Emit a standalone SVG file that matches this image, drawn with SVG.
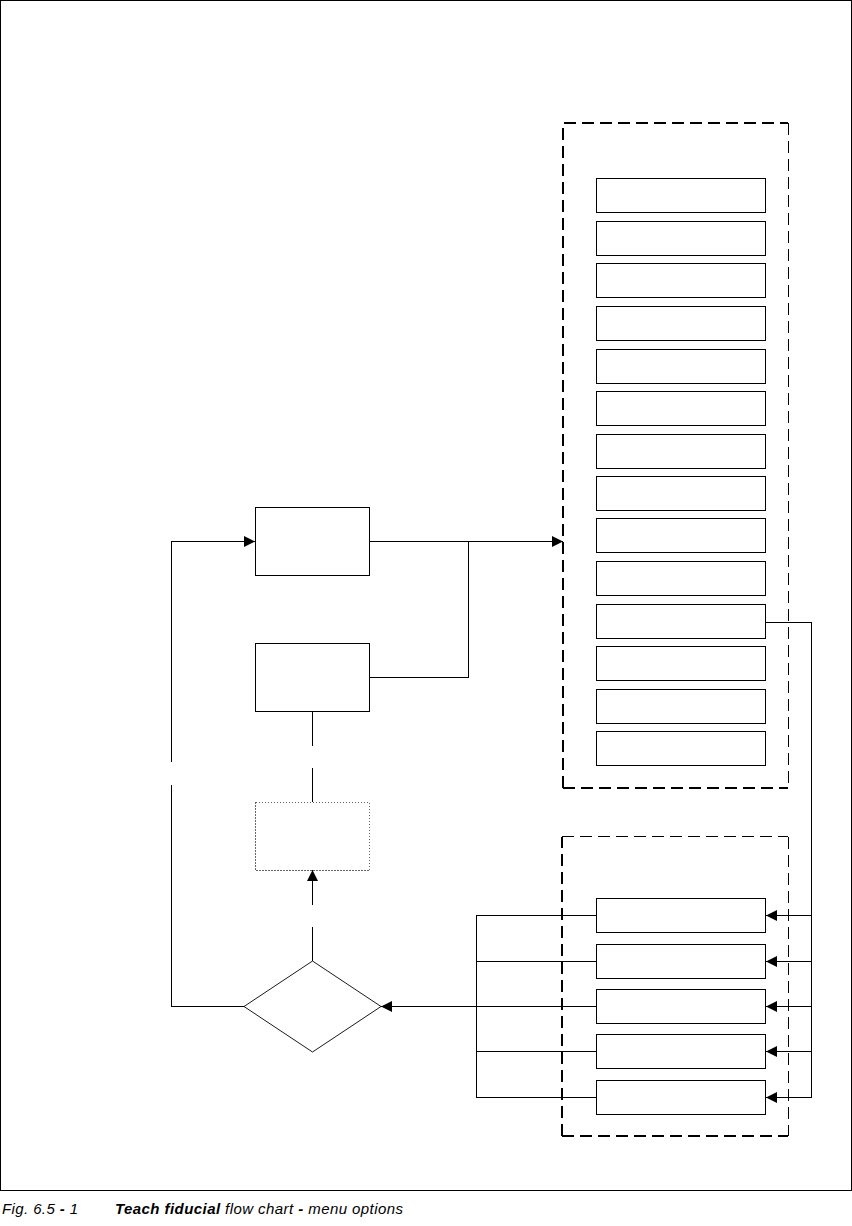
<svg xmlns="http://www.w3.org/2000/svg" width="852" height="1226" viewBox="0 0 852 1226">
<style>
.box{fill:#fff;stroke:#000;stroke-width:1;shape-rendering:crispEdges}
.ln{fill:none;stroke:#000;stroke-width:1;shape-rendering:crispEdges}
.grp{fill:none;stroke:#000;stroke-dasharray:12 6;shape-rendering:crispEdges}
.cap{font-family:"Liberation Sans",Arial,sans-serif;font-size:15px;font-style:italic;fill:#000}
</style>
<defs>
<marker id="ah" markerUnits="userSpaceOnUse" markerWidth="11" markerHeight="11" refX="11" refY="5.5" orient="auto" viewBox="0 0 11 11">
<path d="M0,0 L11,5.5 L0,11 z" fill="#000"/>
</marker>
</defs>
<rect x="0.5" y="0.5" width="851" height="1190" fill="#fff" stroke="#000" stroke-width="1" shape-rendering="crispEdges"/>

<g id="group-menu">
<path class="grp" stroke-width="2" d="M563,788 V123 H788"/>
<path class="grp" stroke-width="1" d="M788.5,123 V788"/>
<path class="grp" stroke-width="2" d="M563,788 H788"/>
</g>
<g id="group-options">
<path class="grp" stroke-width="2" d="M562,1136 V836.5"/>
<path class="grp" stroke-width="1.5" d="M562,836.5 H788"/>
<path class="grp" stroke-width="1" d="M788.5,836.5 V1136"/>
<path class="grp" stroke-width="2" d="M562,1136 H788"/>
</g>

<g id="menu-items">
<rect id="m1" class="box" x="596.5" y="178.5" width="169" height="34"/>
<rect id="m2" class="box" x="596.5" y="221.5" width="169" height="34"/>
<rect id="m3" class="box" x="596.5" y="263.5" width="169" height="34"/>
<rect id="m4" class="box" x="596.5" y="306.5" width="169" height="34"/>
<rect id="m5" class="box" x="596.5" y="349.5" width="169" height="34"/>
<rect id="m6" class="box" x="596.5" y="391.5" width="169" height="34"/>
<rect id="m7" class="box" x="596.5" y="434.5" width="169" height="34"/>
<rect id="m8" class="box" x="596.5" y="476.5" width="169" height="34"/>
<rect id="m9" class="box" x="596.5" y="518.5" width="169" height="34"/>
<rect id="m10" class="box" x="596.5" y="561.5" width="169" height="34"/>
<rect id="m11" class="box" x="596.5" y="604.5" width="169" height="34"/>
<rect id="m12" class="box" x="596.5" y="646.5" width="169" height="34"/>
<rect id="m13" class="box" x="596.5" y="689.5" width="169" height="34"/>
<rect id="m14" class="box" x="596.5" y="731.5" width="169" height="34"/>
</g>

<g id="option-items">
<rect id="o1" class="box" x="596.5" y="898.5" width="169" height="34"/>
<rect id="o2" class="box" x="596.5" y="944.5" width="169" height="34"/>
<rect id="o3" class="box" x="596.5" y="989.5" width="169" height="34"/>
<rect id="o4" class="box" x="596.5" y="1034.5" width="169" height="34"/>
<rect id="o5" class="box" x="596.5" y="1080.5" width="169" height="34"/>
</g>

<g id="boxA"><rect class="box" x="255.5" y="507.5" width="114" height="68"/></g>
<g id="boxB"><rect class="box" x="255.5" y="643.5" width="114" height="68"/></g>
<g id="boxDotted"><rect x="255.5" y="802.5" width="114" height="68" fill="#fff" stroke="#666" stroke-width="1" stroke-dasharray="1.5 1.5" shape-rendering="crispEdges"/></g>
<g id="decision"><polygon points="312.5,961 381,1006.5 312.5,1052 244,1006.5" fill="#fff" stroke="#000" stroke-width="0.9"/></g>

<g id="connectors">
<path class="ln" d="M244,1006.5 H171.5 V785"/>
<path class="ln" d="M171.5,762 V541.5 H255" marker-end="url(#ah)"/>
<path class="ln" d="M369,541.5 H563" marker-end="url(#ah)"/>
<path class="ln" d="M369,677.5 H468.5 V541.5"/>
<path class="ln" d="M312.5,711 V746"/>
<path class="ln" d="M312.5,768 V802"/>
<path class="ln" d="M312.5,961 V927"/>
<path class="ln" d="M312.5,905 V870" marker-end="url(#ah)"/>
<path class="ln" d="M596,915.5 H476.5 V1097.5 H596"/>
<path class="ln" d="M476.5,961.5 H596"/>
<path class="ln" d="M476.5,1051.5 H596"/>
<path class="ln" d="M596,1006.5 H381" marker-end="url(#ah)"/>
<path class="ln" d="M766,622.5 H811.5 V1097.5"/>
<path class="ln" d="M811.5,915.5 H766" marker-end="url(#ah)"/>
<path class="ln" d="M811.5,961.5 H766" marker-end="url(#ah)"/>
<path class="ln" d="M811.5,1006.5 H766" marker-end="url(#ah)"/>
<path class="ln" d="M811.5,1051.5 H766" marker-end="url(#ah)"/>
<path class="ln" d="M811.5,1097.5 H766" marker-end="url(#ah)"/>
</g>

<g id="caption">
<text class="cap" x="2" y="1214" textLength="76" lengthAdjust="spacing">Fig. 6.5 <tspan font-weight="bold">-</tspan> 1</text>
<text class="cap" x="115" y="1214" textLength="288" lengthAdjust="spacing"><tspan font-weight="bold">Teach fiducial</tspan> flow chart <tspan font-weight="bold">-</tspan> menu options</text>
</g>
</svg>
